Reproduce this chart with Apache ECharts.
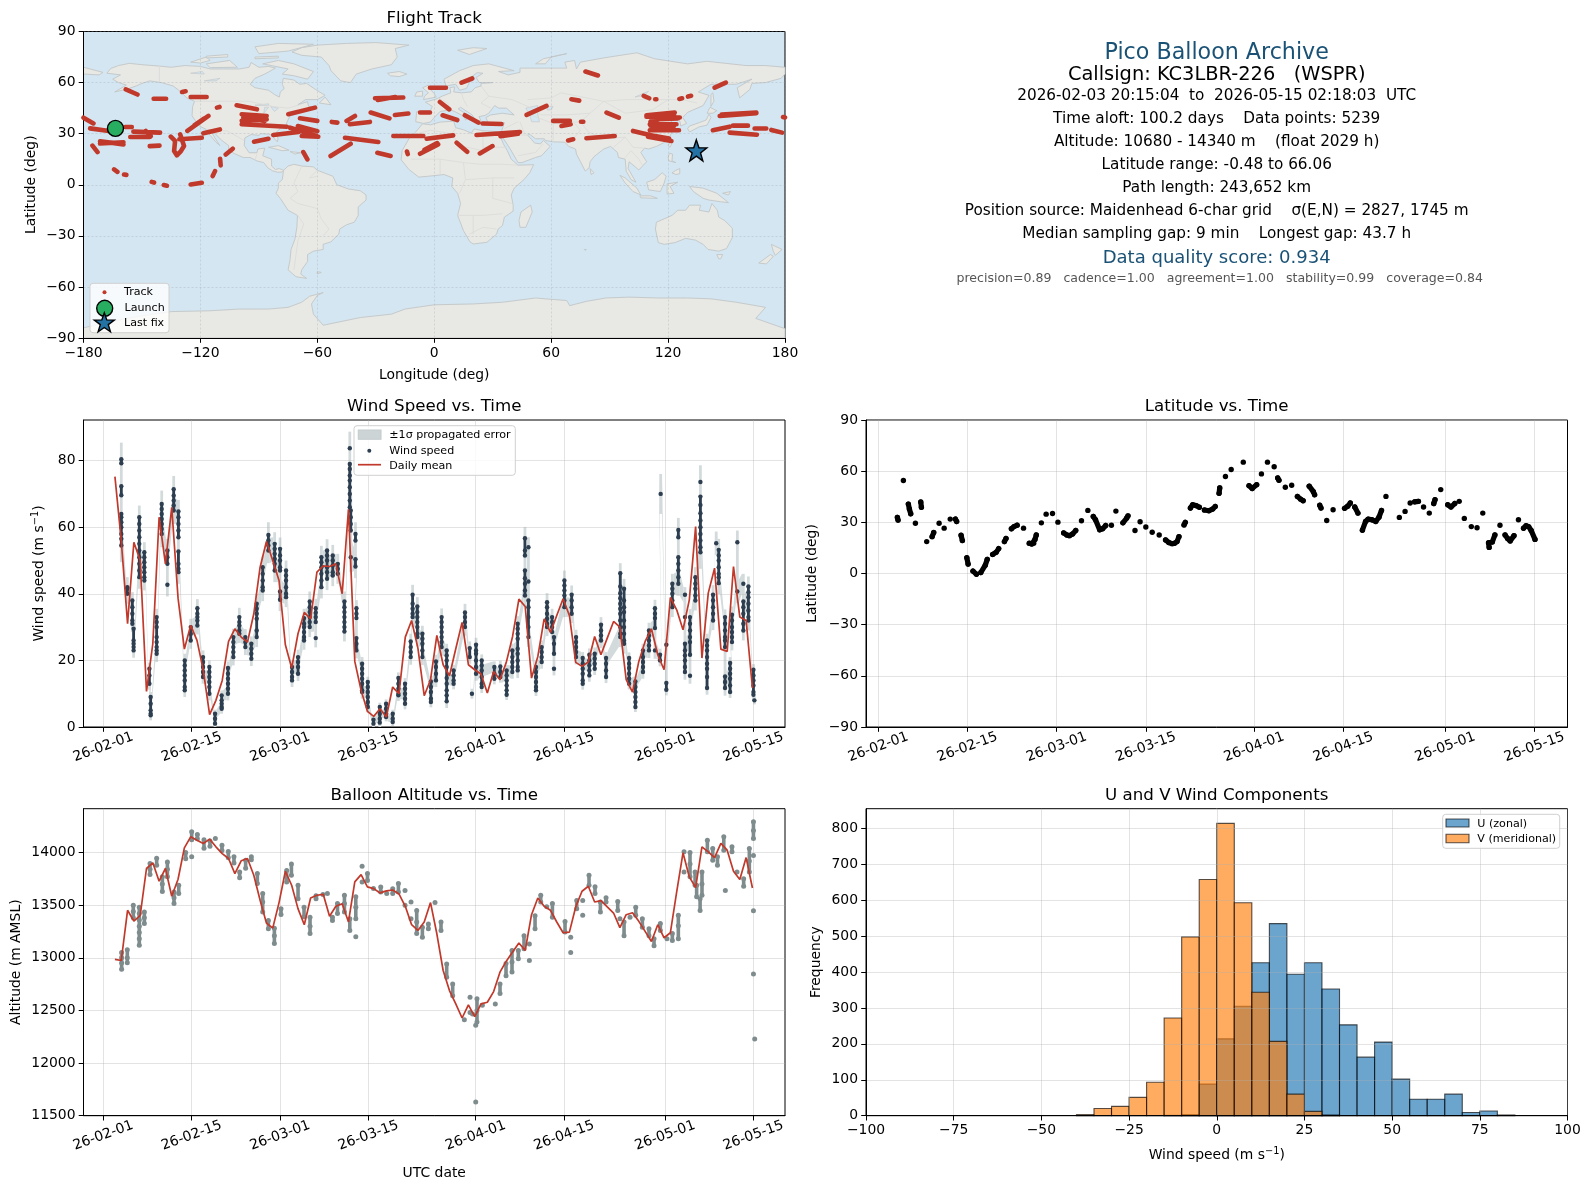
<!DOCTYPE html>
<html><head><meta charset="utf-8">
<script src="https://cdn.jsdelivr.net/npm/echarts@6/dist/echarts.min.js"></script>
<style>html,body{margin:0;padding:0;background:#fff}#c{width:1590px;height:1189px}</style>
</head><body><div id="c"></div>
<script>
// x values on the three time panels are days since 2026-02-01 00:00 UTC
const dateTickDays = [0,14,28,42,59,73,89,103];
const dateTickLabels = ['26-02-01','26-02-15','26-03-01','26-03-15','26-04-01','26-04-15','26-05-01','26-05-15'];
const meanStartDay = 1.84;
const windMean = [75.2,56,31,55.5,50,10.7,25,63,49,66,38.7,23.4,30.5,26,17,3.7,8,14,25.7,29.5,27,25.5,34,48,55.7,50,44,24.7,17.7,28,34.4,32.5,46.5,48.4,48.2,49,40,65.4,19.7,11,4.7,3.2,5.5,3,12,10,27,32,23.7,9.4,14.2,27.5,18.7,15.4,23.5,31.4,18.7,17.2,15.9,10.2,16.7,14.2,19.4,27.2,38.4,36.2,14.7,21.2,32.5,28.4,33.5,38.5,33.5,19.4,18.2,19.5,27.2,21.7,26.7,31.7,30,14.2,10.5,19.7,25.7,29.5,21.7,17.2,38.9,35.2,29.2,38.2,60.2,20.7,40.2,47.7,23.4,22.7,48.2,33,32,11.7];
const altMean = [12984,12974,13451,13349,13403,13848,13902,13727,13848,13584,13746,14044,14149,14117,14086,14127,14054,13990,13943,13800,13921,13943,13784,13546,13330,13282,13524,13822,13689,13467,13314,13568,13594,13603,13394,13489,13514,13340,13721,13790,13673,13657,13616,13635,13644,13606,13489,13314,13260,13340,13524,13228,12879,12689,12562,12428,12552,12441,12562,12578,12679,12863,12968,13054,13140,13070,13409,13568,13489,13451,13340,13238,13244,13483,13632,13679,13530,13543,13483,13425,13286,13409,13428,13346,13251,13155,13314,13190,13238,13625,13997,13768,13667,14054,14006,13952,14086,14022,13822,13743,13952,13663];
// [day since Feb 1, sigma, speeds...]
const windCols = [
[2.85,5,80.4,79.2,72.3,69.6,64,63,61.5,60,58,56.5,54.5],[3.8,3,42,41.5,40],[4.6,2.5,38,36,34,32,31],[4.8,2.2,29.5,26,25,24,23],
[5.7,3.5,63,61,59,57,55,53,51,49,47,45],[6.5,3,52.5,51,49.5,48,46.5,45,44],[7.3,1.8,17.5,15.5,13],[7.5,1.5,9,7,5,4,3.5],
[8.45,2.5,33,31.5,30,27,25.5,24,23,22],[9.25,4,67,65.5,64,62.5,61,59.5,58],[10.15,3.5,53,51,49,42.7],[11.15,4,71.4,69.5,68,66.5,65],
[11.9,3.5,64.7,63,61,59,57,52.7,49,47.5,46.5],[12.9,2,20,18.5,17,15.5,14,12,11],[13.85,2.5,30,28,26],[14.9,2.7,35.7,34,33,32,30.5],
[15.8,2,21,19.5,18,16.5,15],[16.8,2,18,16.5,15,13.5,12,10],[17.7,1.2,4,2.5,1],[18.75,1.5,9.5,8,7,6,5.5],[19.75,2,17.7,16,14.5,13,11.5,10],
[20.6,2.5,27,25.5,24,22.5,21],[21.55,2.8,33,31.5,30.5,29,28],[22.5,2.4,27,25.5,24],[23.45,2.2,25,23.5,22,20.5],[24.3,3,37,35.5,34,32.5,29,27],
[25.25,3.2,48,46,44,42,41],[26.15,3.8,57.7,56,54.5,53],[27.15,3.5,55,53.5,52,50.5,49,47],[28,3.4,53.5,51.5,50,48,47,40.7,38.2],[28.95,3,47,45.5,44,42,40,39],
[29.9,2,18,16.5,15,14],[30.85,2.2,21,19.5,18,16],[31.8,2.8,32.7,31,30,28.5,27,26],[32.7,3,37.7,36,34.5,33,31.5,30],[33.65,2.8,35.7,34.3,33,31.5,26.7],
[34.55,3.4,51,49.5,48,46,44,42],[35.45,3.4,53,51.5,50,48,46.5,44.5],[36.35,3.2,51.5,50,48.5,46.5,45.5],[37.15,3,49,47.5,46],[38.2,3,37.7,36,34.5,33,31.5,30,28.7],
[39.05,5,83.7,79,77.5,75.5,74,72,70,68,66],[39.2,4.5,65,63,61,59,51],[39.95,3.5,58,56,50.4,48.2],[40.1,2.4,35.7,34,32.7,26.7,25,23],[41,2,19,17.5,16,14.5,13,11,10.5],
[41.9,1.6,13.5,12,10.5,9,7.5,6],[42.8,1,2.2,1],[43.8,1.3,6,4,2.5,1.3],[44.8,1.3,7,5.5,4,3],[45.85,1.2,4,2.5,1.5],[46.75,1.7,14.7,13,11.5,10,9.5],[47.8,1.7,13,11.5,10,8.5,7],
[48.7,2.3,25.7,24,22.5,21],[49,3,39.7,37,35.5,34,33],[49.75,2.8,36.2,34.5,33,31.5,30,28,27],[50.55,2.4,28,26.5,25,23,21],[51.9,1.6,13.7,12,10.5,8.5,7.5],[52.7,2,19.7,18,16,14],
[53.6,2.6,33,31.5,30,28.5,27,25.5,24],[54.4,2,23,21.5,20,18,14.7,13,11,9.5,7.7],[55.5,1.7,17,15.5,14,13],[57.3,2.6,34.4,33,31.5,30],[58.05,2,23.7,21],[58.4,1.5,10],[59.05,2.1,24.7,23,22,20,18,16],
[59.95,1.8,20,18.5,17,15,13,12],[61.95,1.7,18,16,14.5],[62.9,1.7,18.2,16.5,15],[63.9,1.6,17,15.5,14,12.5,11,9.7],[64.8,2,23,21,19.5,18,16.5],[65.65,2.3,31,29.5,28,26.5,23.5,22,20,18,17],
[66.8,3.4,56.7,53,51.5,47,44.7,43,41,39.5],[67.35,3,54,43.7,38,36,33,30,27],[68.55,1.7,18,16.5,15,13.5,12,11],[69.45,2,24,22.5,21,19.5],[70.3,2.7,37.5,36,34,32.5,31,30],[71.1,2.5,33,31.5,30,28.5],[71.4,2,27,25,22,17.5],
[73.05,3,44,42.5,41,39.5,38,36],[74.2,2.8,39.7,38,36,34],[74.9,2.2,27,25.5,24,22.5,21],[75.95,1.8,20.7,19,17.5,16,14,13],[77,1.9,21.7,20,18.5,17,15.5],[77.85,1.9,22,20.5,19,17.5],[78.85,2.3,30.7,29,27.5,26],[79.65,1.8,20.7,19,17,15],
[81.9,3,46.2,42.2,40.2,38.7,37,35.5,34,32,30,28,27],[82.5,3,41.5,38,36,34.5,32,30,28,26,25],[83.3,1.7,20.7,19,17.7,16,14.5,13],[84.3,1.5,13.7,12,10.5,9,7.5,6],[85.5,2,23,21,19.5,18,16.5],[86.45,2.3,29,27.5,26,24.5,23],[87.4,2.5,35.7,34,32.7,29.7,23],
[88.2,1.8,21.7,20],[88.3,6,70],[89.2,1.7,24.7,13.2,11.2],[90.15,3,43,41.5,40,38,36],[91.1,3.6,59.2,57,51,49,47,45,43],[92.15,2.3,39.7,33,25,23,21.5,20,18,16.5],[92.95,2.4,33,31,29,27,25.5,21.7,15.4],[93.8,3,45,43,41.5,39.5,38],
[94.6,5,73.6,69.2,66.7,64.2,62,60,58,56,54,52.5],[95.65,2,26,24.5,23,21,19,17.5,15,11.7],[96.6,2.9,39.7,38,36,34,32],[97.1,3.5,55.2],[97.5,3.3,53.2,51.5,50,48,46,45,43.2],[98.5,2.3,33,31,29,27,26,24,15.2,13.5,11.7],[99.3,1.8,19.2,17.5,16,14.5,12.5,10.5],[99.6,2.5,33.7,32,30,28.5,27,25.5],
[100.45,3.5,55.5,40.7],[101.4,3,43,37.7,36,34,31,29],[102.2,3,42.2,40.5,39,37,35,33,32],[103,1.7,17.2,15.5,14,12.5,10.5,9.7],[103.15,1.2,8]
];
// [day since Feb 1, altitudes...]
const altCols = [
[2.9,13050,13000,12950,12890],[3.8,13076,13000,12952],[4.75,13500,13440,13380],[5.7,13480,13420,13360,13300,13240,13180,13120],[6.5,13435,13380,13325],[7.4,13895,13840,13790],[8.45,13945,13880],[9.35,13770,13700,13630],[10.15,13910,13840,13770],[11.2,13625,13570,13515],[11.95,13690,13610],[13.05,14000,13940],[14,14197,14120,13960],[14.9,14170,14130],[15.95,14120,14040],[16.9,14110,14060],[17.75,14133],[18.8,14070,14020],[19.8,14010,13950],[20.7,13960,13900],[21.6,13815,13760],[22.55,13927,13850],[23.45,13960,13930],[24.4,13800,13705],[25.25,13610,13530,13435],[26.15,13355,13275],[27.1,13280,13210,13135],[28.15,13465,13410],[29.05,13830,13720],[29.8,13890,13785],[30.85,13690,13560],[31.8,13480,13390],[32.75,13385,13300,13230],[33.7,13590,13560],[34.8,13600],[35.5,13610],[36.3,13385,13355],[37.1,13515,13420],[38.2,13595,13515,13435],[39.05,13370,13260],[40,13580,13480,13370,13200],[41,13870,13720],[41.85,13800,13735],[42.8,13657],[43.95,13673,13625],[44.9,13610],[45.85,13655,13610],[46.75,13705,13625],[47.8,13640,13500],[48.75,13530,13370],[49.65,13450,13340,13230],[50.55,13290,13195],[51.5,13320,13275],
[52.55,13524],[53.5,13340,13260],[54.4,12940,12815],[55.35,12750,12640],[57.2,12412],[58.1,12625,12480],[58.5,12465],[59.2,12610,12500,12390],[59,12360,11630],[60.05,12550],[62.1,12560],[62.85,12750,12660],[63.8,12945,12830],[64.75,13070,12960,12865],[65.75,13070,12990],[66.65,13210,13085],[67.5,13130,12975],[68.4,13400,13275],[69.3,13595,13530],[70.25,13485],[71.15,13515,13385],[73.15,13345,13245],[74.05,13195,13050],[75,13545,13465],[75.95,13545,13405],[76.95,13785,13690],[77.9,13675,13610],[78.75,13530,13435],[79.65,13570,13530],[81.5,13535,13450],[81.85,13370],[82.5,13340,13210],[83.45,13385],[84.35,13480,13405],[85.4,13370,13290],[86.45,13275,13210],[87.25,13180,13115],[88.25,13325,13260],[89.3,13180],[90.15,13230,13165],[91.1,13405,13305,13180],[92,14006,13815],[92.95,14000,13890,13770],[93.75,13815,13690],[94,13690,13580],[94.85,13815,13700,13595],[94.55,13560,13450],[95.7,14117,14006],[96.55,14038,13927],[97.3,13960,13880],[98.3,14150,14022],[98.55,13638],[99.6,14054,14006],[100.4,13815],[101.45,13750,13680],[102.35,14038,13920,13815],[103,14292,14210,14133,13971,13447,12847],[103.2,12228]
];
// [day since Feb 1, latitude]
const latPoints = [[3,32.9],[3.1,31.3],[3.94,54.5],[4.72,40.7],[4.88,37.8],[5.09,35],[5.83,29.5],[6.67,41.9],[6.77,38.8],[7.6,18.7],[8.45,21.6],[8.7,24],[9.55,29.5],[10.34,26.6],[11.29,31.9],[12.1,31.9],[12.3,30.5],[13,22.4],[13.2,19.3],[13.9,9.2],[14.1,5.5],[14.86,1.4],[15.4,-0.4],[16.1,0.6],[16.8,4.9],[17.1,8.3],[17.95,11.2],[18.5,12.4],[18.9,14.6],[19.8,18.7],[20.05,20.5],[20.9,26.2],[21.3,27.5],[21.8,28.3],[22.8,26.6],[23.7,17.7],[24.1,17.3],[24.4,17.7],[24.6,20],[24.8,22.6],[25.6,29.7],[26.35,34.8],[27.35,35.2],[28.2,30.1],[29.1,23.8],[29.6,22.6],[30,22.2],[30.5,23.2],[31,25.2],[31.9,30.9],[32.9,37],[33.75,33.4],[34.1,31.5],[34.75,25.6],[35.2,26.2],[35.7,28.1],[36.6,28.3],[37.3,36.6],[38.4,29.7],[39,32.5],[39.2,33.8],[40.3,25.2],[41.1,30.3],[42,27.3],[43,24.2],[44.1,22.6],[45.1,19.7],[45.6,18.2],[46.1,17.5],[46.5,17.7],[46.9,18.7],[47.2,21.6],[48,28.5],[48.2,30],[49,38.4],[49.35,40.3],[49.9,39.8],[50.4,38.8],[51.2,37.2],[51.9,36.8],[52.5,37.8],[52.9,39.3],[53.5,47],[53.6,50.2],[54.5,56.9],[55.4,61],[57.3,65.3],[58.2,51.5],[58.7,49.8],[59.4,52.1],[60.15,58.4],[61.1,65.3],[62.15,62.6],[62.7,56],[62.9,54.7],[63.9,50.6],[64.9,51.7],[65.8,45.2],[66.3,43.6],[66.7,42.7],[67.65,51.2],[68.3,48],[68.5,46.2],[69.3,40],[69.5,38.4],[70.4,31.1],[71.4,37.4],[73.2,38.2],[73.7,39.5],[74.1,41.3],[74.8,39],[75.3,35.4],[76,25.4],[76.5,30.5],[76.9,31.9],[77.5,31.5],[78.1,30.5],[78.6,33],[79,37],[79.7,45.2],[81.8,32.9],[82.7,36.4],[83.5,41.3],[84.2,42],[84.8,42.3],[85.6,39],[86.5,35.4],[87.2,41],[87.4,43.3],[88.3,49.2],[89.4,40.3],[89.9,39],[90.5,41],[91.2,42.3],[92,32.3],[93.1,27.5],[94,26.8],[94.9,35.4],[95.9,15.3],[95.8,18],[96.4,18.5],[96.8,22.6],[97.6,28.3],[98.4,22.6],[98.8,20.5],[99.2,19.1],[99.8,22.2],[100.5,31.5],[101.3,26.6],[101.7,28],[102.1,27.5],[102.5,25.2],[103.1,20]];
// [lon1,lat1,lon2,lat2,...]
const trackStreaks = [
[-171,63,-170.8,63],[-158.3,56,-152.3,53],[-144,50.5,-137.6,50.5],[-129.4,54.5,-127.6,54.9],[-125,51.5,-116.8,51.5],[-111.5,45.3,-110.2,45.7],[-101.4,46.7,-91,44.3],[-180,39.4,-174.9,36],[-176.6,33.1,-167,31.6],[-158.6,33.9,-155.2,33.9],[-154.4,31.2,-140.7,30.6],[-156,28,-146,28],[-148,31.6,-145.5,28.5],[-171.5,25.5,-159.5,23.7],[-171.5,24.2,-159.5,25],[-146,22.7,-141,23],[-175.4,23,-172.8,19.2],[-164.3,9,-162.6,7.6],[-159.2,6,-158,5.8],[-145,1.7,-143.8,1.3],[-138.8,-0.2,-137.2,-0.6],[-125,0.2,-119.3,1.2],[-113.7,5.1,-112.5,8],[-109.6,11.4,-109.9,15.3],[-107,17.8,-103.4,21.2],[-135.2,28.2,-133,25.7,-133.5,19.8,-132.1,17.3,-130,19.8,-128.4,22.7,-130.4,29.6],[-130.8,26.7,-119.3,27.6],[-126.7,31.6,-115.9,40.4],[-123,35,-118,39],[-118.5,30.2,-110,32.5],
[-98.8,41.4,-86,40.4],[-98.8,37.5,-86,38.4],[-98.8,35.5,-75.7,34.1],[-98,39.5,-87,37.5],[-98,36.8,-87,39],[-74.9,41.4,-61.2,45.3],[-68.9,39,-60,37.5],[-52.6,36.9,-49.7,36.5],[-45,37.5,-40.7,40.4],[-43.3,35.5,-33,36.9],[-32.6,42.4,-23,39],[-20.2,41,-13.3,41.8],[-7.3,42.4,-2.2,42.4],[-30.4,50.8,-15.9,51.2],[-29,49.8,-20,51.5],[-2.2,57,6,57],[-74,33.5,-60.3,28.6],[-70,34.5,-60,31.5],[-82.6,29.2,-69.7,31],[-68,28.6,-59.5,28.2],[-92.5,25.3,-85.1,27],[-67.2,19.2,-65.1,14.9],[-53.2,16.9,-42.9,24.1],[-45.8,27.6,-28.7,25.1],[-29.2,18.8,-22.4,16.9],[-21,28.6,-5.6,28.6],[-14,19.5,-13.6,18],[-7.3,18.2,2,23.7],[-5,20.5,1.5,24.5],[-3.9,27,9.7,29],
[14,60,19.5,62.4],[2.9,48.6,7.7,44.3],[4.3,40.8,11.8,38],[15.7,40.8,22.6,36.5],[24.8,36,34.5,35.7],[21.7,29.2,44,31],[34,28.5,43,30],[11.5,24.7,16.9,19.4],[23.4,18.4,29.9,22.7],[47.4,41,57.6,46.3],[51.5,32,51.7,32],[61,37.5,69.6,37.5],[65.3,34.5,70,35.5],[63.5,32,63.7,32],[75.3,37,76.5,37],[70.4,50.2,74.4,49.4],[77.6,66.5,84,64.2],[84.5,63.5,84.7,63.5],[68.7,26,71.3,26.7],[78.1,27.3,92.6,28.6],[88.4,42.4,94.7,39.4],[102,31.6,110.6,29.2],[107.5,52.2,110.3,50.8],[113.4,50.2,114,50.2],[125.8,50.4,127.2,50.8],[130.2,51.8,131.8,52.2],[143.9,57,149.6,60],[164,65.3,164.2,65.3],
[108.9,40.8,123.4,42.4],[108.9,40,126,39.5],[111.5,38.4,125,39],[111,37,123,41],[110.6,35.5,124.3,35.5],[111,34.7,123,34.5],[110.6,32,125.6,32],[109.7,28.2,121.7,25.7],[108.9,29.5,120.5,27.2],[146.5,40.4,165.3,42],[147.5,41.3,165.3,42.4],[143,32,151.6,34.1],[153.3,34.7,161,34.7],[164.4,33,170.4,33],[173,32.2,178.5,30.6],[151.6,30.6,165.6,29.4],[179,39.8,180,39.5]
];
const launchFix = [-163.6,33.1];
const lastFix = [134.5,20.2];
const binStarts = [-40,-35,-30,-25,-20,-15,-10,-5,0,5,10,15,20,25,30,35,40,45,50,55,60,65,70,75,80];
const binWidth = 5;
const uCounts = [0,0,0,0,0,1,3,88,214,305,426,535,394,426,353,253,163,205,102,46,46,60,9,13,2];
const vCounts = [3,20,26,51,93,272,498,658,814,593,344,207,60,12,2,0,0,0,0,0,0,0,0,0,0];
const lonTicks=[-180,-120,-60,0,60,120,180], latTicks=[-90,-60,-30,0,30,60,90];
const windTicks=[0,20,40,60,80], altTicks=[11500,12000,12500,13000,13500,14000];
const freqTicks=[0,100,200,300,400,500,600,700,800], compTicks=[-100,-75,-50,-25,0,25,50,75,100];
const land = [
[-168,65.5,-166,68.3,-162,70,-156.5,71.3,-150,70.5,-141,69.7,-135,69,-128,70,-120,69.5,-115,68,-108,68,-100,68,-95,69,-94,71.8,-90,69,-85,69.5,-81.5,68.5,-87,65,-92,62.5,-94.5,59,-92,57,-85,55.5,-82,53,-79.5,51.5,-79,54.5,-77,56.5,-78,59,-77.5,62.5,-72,61.5,-69,59,-65.5,59.5,-61,56,-56,52.5,-60,50,-66,50,-70,47,-65,48.8,-64.5,46,-61,45.5,-66,44,-70,43.5,-70.5,41.7,-74,40.5,-75.5,37,-76,35,-79,33,-81,31,-80.2,27,-80.5,25.2,-82,27,-83,29,-85,29.7,-89,30,-90,29,-94,29.5,-97.2,27.5,-97.5,23,-95,18.8,-91,18.8,-90.5,21,-87,21.5,-88,17,-83.5,15,-83.5,11,-81.5,9,-79.5,9.5,-77.3,8.5,-78,7.5,-80.3,7.3,-83,8.2,-85.5,10,-87.5,13,-91,14,-94.5,16,-98,16,-103,18.5,-105.5,20.5,-105.5,23,-109,26,-112.5,30,-114.7,31.5,-112,26.5,-110,23,-112,25,-115,29,-117,32.5,-120.5,34.5,-122.5,37.5,-124.3,40.5,-124,46,-123,49,-127,51,-130,54.5,-134,58,-140,60,-146,61,-150,59.5,-153,58,-158,56,-164,54.5,-158,58.5,-162,60,-165,62,-161,64.5],
[-77.3,8.5,-75,11,-72,12,-68,11,-62,10.5,-60,8.5,-52,5,-50,0,-44,-2.5,-38,-3.5,-35,-6,-35,-9,-39,-13,-39,-18,-41,-22,-45,-23.5,-48.5,-26,-49,-29,-53,-33.5,-57,-35,-57,-38,-62,-39,-65,-41,-65,-45,-68,-50,-68.5,-52.5,-65.5,-55,-71,-54,-75,-50,-74,-44,-73.5,-38,-71.5,-32,-70.5,-25,-70.2,-18,-75,-15,-79,-8,-81.2,-5,-80,-2,-80,1,-78,3,-77.5,7],
[-6,35.8,-2,35.2,3,36.8,10,37.3,11,33.5,15,32.3,19,30.3,20.5,32.8,25,31.7,32,31.2,34,28,35.5,24,37.5,20,39.5,15,43,11.5,51,11.8,49,7,46,3,41,-2,39.5,-6,40.5,-12,40.5,-15.5,36,-19,35,-24,32.8,-26,32,-29,27,-33.8,20,-34.8,18.3,-33.5,15,-27,12,-18,13.5,-11,12,-5,9,-1,9.5,4,5,6,-3,5,-8,4.5,-13,9,-17,14.7,-16.5,20,-13,27,-9.5,31],
[-9.5,37,-9,43,-2,43.5,-1,46,-4.5,48.5,1.5,50.5,4,52,8.5,54,8,57,10.5,57.5,10,54.5,14,54,19,54.5,21,57,24,58,24,59.5,30,60,23,60,21.5,63,25,65.5,22,65.8,17.5,62,18,60,16.5,56.5,13,55.5,11,59,6,58,5,62,13,67,20,70,28,71,41,67,33,66.5,38,64.5,44,66,44,68.5,54,68.5,68,68.5,67,72,72,73,73,68,75,72,87,74.5,104,77.5,113,74,130,71,140,72.5,160,70,170,70,180,69,180,65,178,62.5,170,60,163,59.5,162,56,156.7,51,155.5,57,163,62,155,59,142,59,135.5,54.5,141,52.5,138,46.5,130,42.5,127.5,39.5,129.5,36,126.5,34.5,126,37.5,124.5,40,121,39,119,39,122,37,119.5,35,122,31,120,26,114,22.5,110,21,108,21.5,106,19,109,13.5,105,8.7,100,13.5,99.5,9.5,103.5,1.5,101,3,98.5,8,98,15,94.5,16,94,19,90.5,22.5,87,21,82,16.5,80,13.5,79.5,10,77.5,8,73,18,72.5,21,69,22.5,67,25,61,25.2,57,26,56.5,27,52,27,48.5,30,48,29,50,26.5,51.5,24.5,54.5,24,56,26,59.5,22.5,55,17,52,16,45,13,43,13,39,21,35,28,34.5,31.3,36,36.5,32,36,27.5,36.7,26.5,39.5,29,41,35,42,41,41,37,45,33,45,31,46.5,28,42,26,40.7,23,40,24,37.5,21.5,37,19.5,41,13.5,45.5,12.3,44.5,18.5,40,16,38,15.5,40,10.5,43,8,44,3,43,0,39.5,-2,36.8,-5.5,36],
[-180,65,-172,64.5,-170,66,-175,67.5,-180,69],
[-73,78,-68,80.5,-60,82,-45,83,-30,83.5,-13,82,-20,80,-19,75,-22,70.5,-32,68,-40,65,-43,60,-48,61,-53,67,-54,70,-58,75,-68,76],
[114,-22,113.5,-26,115,-34,118,-35,123.5,-34,129,-31.5,134,-32.5,138,-35,140.5,-38,146,-39,150,-37.5,153,-31,153,-25.5,149,-21,146,-19,145.3,-15,142.5,-11,141,-16,136,-15,136.7,-12,131,-12,129,-15,125,-15,122,-18],
[180,-90,180,-84.5,165,-78.5,170,-72,155,-69,142,-67,130,-66.5,115,-66.5,100,-66,88,-66.5,78,-68.5,69.5,-71,68,-68,57,-67,52,-66.5,35,-69,20,-70,0,-70.5,-15,-73,-22,-76,-38,-78,-57,-82.5,-62,-76,-63,-70,-60,-65,-57,-63.3,-64,-65.5,-68,-69,-75,-72,-85,-73,-100,-73,-115,-74,-135,-74.5,-150,-77,-160,-79,-180,-84,-180,-90],
[-80,73,-72,71,-62,66.5,-65,62,-72,64,-78,65,-75,68,-88,71],[-117,71,-105,73,-101,69,-115,68.8],[-90,77,-75,78.5,-62,82.5,-80,83,-92,81],[-125,72,-117,75,-115,73,-120,71.5],[-92,75,-80,75.5,-80,74.5,-92,74],[-117,75.5,-106,76.5,-106,75,-117,74.5],[-59,48,-56,51.5,-53,47],[-24,65.5,-18,66.5,-14,65,-18,63.5,-22.5,64],[-5.5,50,1,51.5,0,53.5,-2,56,-3,58.5,-6,57,-3,54,-5,52],[-10,52,-6,52,-6,55,-9,54.5],[12,79,20,80.5,27,80,18,76.5],[52,71,56,74,68,77,60,75,57,71],[-85,22,-80,23,-74.5,20.3,-78,20],[-74,19.5,-68.5,18.8,-71.5,18],[49.5,-12,50.3,-16,47,-25,44,-25,43.5,-21,44.5,-16],[80,9.5,82,7,80.5,6],[130,33,131,31,136,34,140,35,142,39.5,141,41.5,139.5,38,136,36.5,131,34.5],[140,42,141.5,45.5,145,43.5,143,42],[142,46,143.5,49,143,54,142,53],[120,23,121,25,122,24.5,121,22],[120,16,120.7,18.5,122.3,18,122,14,124,13,120.5,14],[122,7,124,8.5,126,9.5,126,6.5,124,6],[109,1.5,113,3,117,7,119,5,118,1,116,-4,110,-3],[95.3,5.5,98,4,104,-2,106,-6,102,-4,98,1],[105.5,-6.5,111,-6.5,114.5,-8,106,-7.7],[119.5,0.5,125,1.5,121,-1,123,-5,119.5,-5.5],[131,-1,138,-2,145,-5,151,-10.5,147,-10,141,-9,138,-8,133,-4],[173,-35,178.5,-38,175,-41.5,174,-39],[172.5,-41,174,-42,170.5,-46.5,166.5,-46],[145,-41,148,-41,147,-43.5,146,-43.5],[148,-5,152,-4,151,-6],[77,-38,78,-38,77.5,-38.6],[-60,-51,-58,-51.5,-60,-52.3]
];
const lakes = [[47,45,53,46.5,53,42,54,37,50,37,49,41],[58,46,61,46,60,44,58,44],[-92,46.7,-85,47.5,-85,46.5],[-87.5,42,-85,45.5,-87,45.5],[-84,46,-80,45,-82,43],[-118,61,-110,62.5,-112,61],[-125,65.5,-119,66.5,-118,65],[103,51.5,110,55,108,52.5]];
const borders = [[-141,69.7,-141,60.5],[-123,49,-95,49,-83,46,-75,45,-69,47],[-117,32.5,-106,31.5,-97.5,26],[-92,14.5,-91,18],[-70,-18,-67,-23,-70,-33,-72,-50],[-70,-4,-74,-8,-70,-11,-60,-14,-58,-20,-54,-26,-57,-30],[-68,11,-72,1,-70,-4],[-60,8.5,-64,4,-60,5],[-9,30,-2,32,9,30,11,33],[9,30,13,23,25,20,25,31.7],[25,22,37,22],[-12,15,3,15,15,13,24,12,35,12,43,11.5],[3,15,3,6],[15,13,16,3,13,-5],[16,3,30,4,41,4],[30,4,30,-8,40,-11],[12,-18,25,-18,35,-17],[18,-29,25,-25,32,-26],[20,-18,20,-29],[2,51,7,48,8,44],[14,54,15,50,17,46],[24,58,28,52,40,50,48,46],[28,52,24,48,29,45],[47,42,61,36,75,37],[48,46,55,41,67,41,80,42],[87,49,65,54,60,51,48,50],[87,49,98,50,115,50,127,50,135,48],[87,49,80,42,75,37,79,31,88,27,98,28,102,22,108,21.5],[87,49,98,42,112,44,120,50],[61,36,61,25],[72,36,75,32,70,25,67,25],[44,37,46,31,48,29],[36,33,43,37],[36,30,48,29],[43,17,52,19,56,24],[92,22,98,28],[98,16,101,20,105,15,107,11]];
const LAND='#e8e8e4', LAND_EDGE='#c2c6c7', OCEAN='#d4e6f1', RED='#c0392b', NAVY='#2c3e50', GREY='#7f8c8d', BAND='#d3dadb';
const FONT='"DejaVu Sans"';
const GRID_LINE = {show:true,lineStyle:{color:'#b0b0b0',opacity:.35,width:1}};
const minus = v => String(v).replace('-','\u2212');
const WIND_NAME='{a|Wind speed (m s}{sup|\u22121}{a|)}';
const grids = [
 {left:83.5,top:31.5,width:701.5,height:306.5,show:true,backgroundColor:OCEAN,borderColor:'#000',borderWidth:1},
 {left:83.5,top:420,width:701.5,height:307,show:true,borderColor:'#000',borderWidth:1},
 {left:866,top:420,width:701.5,height:307,show:true,borderColor:'#000',borderWidth:1},
 {left:83.5,top:808.7,width:701.5,height:307,show:true,borderColor:'#000',borderWidth:1},
 {left:866,top:808.7,width:701.5,height:307,show:true,borderColor:'#000',borderWidth:1}];
function common(i,name,gap){return {gridIndex:i,name:name||'',nameLocation:'middle',nameGap:gap||20,nameTextStyle:{fontSize:13.9,color:'#000',fontFamily:FONT,
  rich:{a:{fontSize:13.9,color:'#000',fontFamily:FONT},sup:{fontSize:9.8,color:'#000',fontFamily:FONT,padding:[0,0,7,0]}}},
 axisLine:{show:true,onZero:false,lineStyle:{color:'#000',width:1}},axisTick:{show:true,length:4.8,lineStyle:{color:'#000',width:1}},z:2};}
function numAxis(i,min,max,ticks,name,gap,grid,horizontal){const c=common(i,name,gap);return Object.assign(c,{type:'value',min,max,
 axisLabel:{customValues:ticks,formatter:minus,fontSize:13.9,color:'#000',fontFamily:FONT,margin:8,showMinLabel:true,showMaxLabel:true,hideOverlap:false,padding:horizontal?0:[6,0,0,0]},
 axisTick:Object.assign(c.axisTick,{customValues:ticks}),splitLine:Object.assign({},grid||GRID_LINE,{customValues:ticks})});}
function timeAxis(i,lo,hi,name,gap){const c=common(i,name,gap);return Object.assign(c,{type:'value',min:lo,max:hi,
 axisLabel:{customValues:dateTickDays,rotate:20,align:'center',verticalAlign:'middle',margin:20,fontSize:13.9,color:'#000',fontFamily:FONT,hideOverlap:false,showMinLabel:true,showMaxLabel:true,
  formatter:v=>dateTickLabels[dateTickDays.indexOf(v)]},
 axisTick:Object.assign(c.axisTick,{customValues:dateTickDays}),splitLine:Object.assign({},GRID_LINE,{customValues:dateTickDays})});}
const MAP_GRID={show:true,lineStyle:{color:'#8a9aa5',opacity:.35,width:.8,type:[2,2]}};
const xAxes=[numAxis(0,-180,180,lonTicks,'Longitude (deg)',30,MAP_GRID,true),timeAxis(1,-3.14,108),timeAxis(2,-1.93,108.2),timeAxis(3,-3.14,108,'UTC date',51),numAxis(4,-100,100,compTicks,WIND_NAME,31,null,true)];
const yAxes=[numAxis(0,-90,90,latTicks,'Latitude (deg)',45,MAP_GRID),numAxis(1,0,92.2,windTicks,WIND_NAME,36,null),numAxis(2,-90,90,latTicks,'Latitude (deg)',47),numAxis(3,11500,14416,altTicks,'Altitude (m AMSL)',60),numAxis(4,0,855,freqTicks,'Frequency',43)];
xAxes[4].z=3;yAxes[4].z=3;
const pairs = a => {const o=[];for(let i=0;i<a.length;i+=2)o.push([a[i],a[i+1]]);return o;};
function polySeries(i,polys,style,z){return {type:'custom',xAxisIndex:i,yAxisIndex:i,z,silent:true,clip:true,animation:false,
 data:polys.map(p=>[p[0][0],p[0][1]]),encode:{x:0,y:1},
 renderItem:(params,api)=>({type:'polygon',shape:{points:polys[params.dataIndex].map(pt=>api.coord(pt))},style})};}
function polylineSeries(i,lines,style,z){return {type:'custom',xAxisIndex:i,yAxisIndex:i,z,silent:true,animation:false,
 data:lines.map(p=>[p[0][0],p[0][1]]),encode:{x:0,y:1},
 renderItem:(params,api)=>({type:'polyline',shape:{points:lines[params.dataIndex].map(pt=>api.coord(pt))},style})};}
const bandPolys=[];
windCols.forEach((c,idx)=>{const t=c[0],s=c[1],v=c.slice(2);const hw=.22;const lo=Math.max(0,Math.min(...v)-s),hi=Math.max(...v)+s;
 bandPolys.push([[t-hw,lo],[t-hw,hi],[t+hw,hi],[t+hw,lo]]);
 const n=windCols[idx+1];if(n){const nv=n.slice(2);const mean=nv.reduce((a,b)=>a+b,0)/nv.length;
  const near=(arr,x)=>arr.reduce((b,y)=>Math.abs(y-x)<Math.abs(b-x)?y:b,arr[0]);
  const a=near(v,mean),b=near(nv,a);
  bandPolys.push([[t+hw,Math.max(0,a-s)],[t+hw,a+s],[n[0]-hw,b+n[1]],[n[0]-hw,Math.max(0,b-n[1])]]);}
});
const colPts=(cols,skip)=>{const o=[];cols.forEach(c=>c.slice(skip).forEach(v=>o.push([c[0],v])));return o;};
// runs of closely spaced samples are joined so dense fixes read as a continuous streak
function colRuns(cols,skip,maxGap){const o=[];cols.forEach(c=>{const v=c.slice(skip);let open=false;
 for(let i=0;i+1<v.length;i++){if(Math.abs(v[i]-v[i+1])<=maxGap){if(!open)o.push([c[0],v[i]]);o.push([c[0],v[i+1]]);open=true;}else{if(open)o.push([null,null]);open=false;}}
 if(open)o.push([null,null]);});return o;}
function latRuns(){const o=[];let open=false;for(let i=0;i+1<latPoints.length;i++){const a=latPoints[i],b=latPoints[i+1];
 if(b[0]-a[0]<.7&&Math.abs(b[1]-a[1])<6){if(!open)o.push(a);o.push(b);open=true;}else{if(open)o.push([null,null]);open=false;}}return o;}
const meanLine=arr=>arr.map((v,i)=>[meanStartDay+i,v]);
const trackLine=[];trackStreaks.forEach(s=>{pairs(s).forEach(p=>trackLine.push(p));trackLine.push([null,null]);});
const STAR='path://M0,-10L2.35,-3.24L9.51,-3.09L3.8,1.24L5.88,8.09L0,4L-5.88,8.09L-3.8,1.24L-9.51,-3.09L-2.35,-3.24Z';
function histSeries(counts,color,z){const data=[];binStarts.forEach((b,i)=>{if(counts[i]>0)data.push([b,counts[i]]);});
 return {type:'custom',xAxisIndex:4,yAxisIndex:4,z,silent:true,animation:false,data,encode:{x:0,y:1},
  renderItem:(p,api)=>{const x=api.value(0),y=api.value(1);const a=api.coord([x,0]),b=api.coord([x+binWidth,y]);
   return {type:'rect',shape:{x:a[0],y:b[1],width:b[0]-a[0],height:a[1]-b[1]},style:{fill:color,stroke:'#000',lineWidth:1.1,opacity:.66}};}};}
const runLine=(i,data,color,width)=>({type:'line',xAxisIndex:i,yAxisIndex:i,data,z:3,showSymbol:false,connectNulls:false,animation:false,silent:true,lineStyle:{color,width,cap:'round',join:'round'}});
const series=[
 polySeries(0,land.map(pairs),{fill:LAND,stroke:LAND_EDGE,lineWidth:.9},1),
 polySeries(0,lakes.map(pairs),{fill:OCEAN,stroke:LAND_EDGE,lineWidth:.6},1),
 polylineSeries(0,borders.map(pairs),{fill:'none',stroke:'#dadcd9',lineWidth:.8},1),
 {type:'line',name:'Track',xAxisIndex:0,yAxisIndex:0,data:trackLine,z:4,showSymbol:false,connectNulls:false,animation:false,silent:true,lineStyle:{color:RED,width:4.6,cap:'round',join:'round'}},
 {type:'scatter',name:'Launch',xAxisIndex:0,yAxisIndex:0,data:[launchFix],z:5,symbolSize:16,itemStyle:{color:'#27ae60',borderColor:'#000',borderWidth:1.4,opacity:1},animation:false,silent:true},
 {type:'scatter',name:'Last fix',xAxisIndex:0,yAxisIndex:0,data:[lastFix],z:5,symbol:STAR,symbolSize:21,itemStyle:{color:'#2471a3',borderColor:'#000',borderWidth:1.4,opacity:1},animation:false,silent:true},
 polySeries(1,bandPolys,{fill:BAND},1),
 runLine(1,colRuns(windCols,2,4),NAVY,2.8),
 {type:'scatter',name:'Wind speed',xAxisIndex:1,yAxisIndex:1,data:colPts(windCols,2),symbolSize:4.4,z:4,itemStyle:{color:NAVY,opacity:1},animation:false,silent:true},
 {type:'line',name:'Daily mean',xAxisIndex:1,yAxisIndex:1,data:meanLine(windMean),z:5,showSymbol:false,animation:false,silent:true,lineStyle:{color:RED,width:1.7}},
 runLine(2,latRuns(),'#000',5.2),
 {type:'scatter',name:'Latitude',xAxisIndex:2,yAxisIndex:2,data:latPoints,symbolSize:5.4,z:4,itemStyle:{color:'#000',opacity:1},animation:false,silent:true},
 runLine(3,colRuns(altCols,1,130),GREY,3.6),
 {type:'scatter',name:'Altitude',xAxisIndex:3,yAxisIndex:3,data:colPts(altCols,1),symbolSize:5,z:4,itemStyle:{color:GREY,opacity:1},animation:false,silent:true},
 {type:'line',name:'Altitude daily mean',xAxisIndex:3,yAxisIndex:3,data:meanLine(altMean),z:5,showSymbol:false,animation:false,silent:true,lineStyle:{color:RED,width:1.7}},
 histSeries(uCounts,'#1f77b4',2),
 histSeries(vCounts,'#ff7f0e',2.1)
];
const titles=[['Flight Track',434.2,18.5],['Wind Speed vs. Time',434.2,407],['Latitude vs. Time',1216.7,407],['Balloon Altitude vs. Time',434.2,796],['U and V Wind Components',1216.7,796]]
 .map(t=>({text:t[0],left:t[1],top:t[2],padding:0,textAlign:'center',textVerticalAlign:'middle',textStyle:{fontSize:16.67,fontWeight:'normal',color:'#000',fontFamily:FONT}}));
const T=(x,y,text,size,fill,align)=>({type:'text',x,y,z:20,silent:true,style:{text,font:size+'px '+FONT,fill:fill||'#000',align:align||'center',textAlign:align||'center',verticalAlign:'middle',textVerticalAlign:'middle'}});
const infoLines=[['Pico Balloon Archive',53,22.2,'#1a5276'],['Callsign: KC3LBR-226   (WSPR)',75,19.4,'#000'],['2026-02-03 20:15:04  to  2026-05-15 02:18:03  UTC',96,15.28,'#000'],['Time aloft: 100.2 days    Data points: 5239',119.3,15.28,'#000'],['Altitude: 10680 - 14340 m    (float 2029 h)',142.3,15.28,'#000'],['Latitude range: -0.48 to 66.06',165.3,15.28,'#000'],['Path length: 243,652 km',188.3,15.28,'#000'],['Position source: Maidenhead 6-char grid    \u03C3(E,N) = 2827, 1745 m',211.3,15.28,'#000'],['Median sampling gap: 9 min    Longest gap: 43.7 h',234.3,15.28,'#000'],['Data quality score: 0.934',258.5,18.05,'#1a5276'],['precision=0.89   cadence=1.00   agreement=1.00   stability=0.99   coverage=0.84',279,12.55,'#555']];
const box=(x,y,w,h)=>({type:'rect',z:18,silent:true,shape:{x,y,width:w,height:h,r:3},style:{fill:'rgba(255,255,255,.8)',stroke:'#d0d0d0',lineWidth:1}});
const rect=(x,y,w,h,fill,stroke,op)=>({type:'rect',z:19,silent:true,shape:{x,y,width:w,height:h},style:{fill,stroke,lineWidth:1.1,opacity:op==null?1:op}});
const graphic=[
 ...infoLines.map((l,i)=>T(i===10?1219.7:1216.7,l[1],l[0],l[2],l[3])),
 box(90,283.3,79,49.4),
 {type:'circle',z:19,silent:true,shape:{cx:104.5,cy:292.3,r:2},style:{fill:RED}},
 {type:'circle',z:19,silent:true,shape:{cx:104.7,cy:308.3,r:8},style:{fill:'#27ae60',stroke:'#000',lineWidth:1.4}},
 {type:'polygon',z:19,silent:true,x:104.3,y:323.3,shape:{points:[[0,-10.5],[2.47,-3.4],[10,-3.25],[4,1.3],[6.18,8.5],[0,4.2],[-6.18,8.5],[-4,1.3],[-10,-3.25],[-2.47,-3.4]]},style:{fill:'#2471a3',stroke:'#000',lineWidth:1.4}},
 T(124,292.3,'Track',11.1,'#000','left'),T(124.5,308.3,'Launch',11.1,'#000','left'),T(124,323.3,'Last fix',11.1,'#000','left'),
 box(354,425.7,161.3,49.6),
 rect(358.3,430,22.7,9.3,'#ccd4d6','#c4cccd'),
 {type:'circle',z:19,silent:true,shape:{cx:369.3,cy:450.7,r:2},style:{fill:NAVY}},
 {type:'line',z:19,silent:true,shape:{x1:358,y1:464.7,x2:381,y2:464.7},style:{stroke:RED,lineWidth:1.7}},
 T(389.3,435,'\u00B11\u03C3 propagated error',11.1,'#000','left'),T(389.3,450.7,'Wind speed',11.1,'#000','left'),T(389.3,466,'Daily mean',11.1,'#000','left'),
 box(1442.7,814.3,117,34),
 rect(1446,819,23,8,'#1f77b4','#000',.66),rect(1446,834.3,23,8.4,'#ff7f0e','#000',.66),
 T(1477.3,824.3,'U (zonal)',11.1,'#000','left'),T(1477.3,839,'V (meridional)',11.1,'#000','left')
];
const chart=echarts.init(document.getElementById('c'),null,{renderer:'canvas'});
chart.setOption({animation:false,backgroundColor:'#fff',textStyle:{fontFamily:FONT},title:titles,grid:grids,xAxis:xAxes,yAxis:yAxes,series,graphic});
</script></body></html>
